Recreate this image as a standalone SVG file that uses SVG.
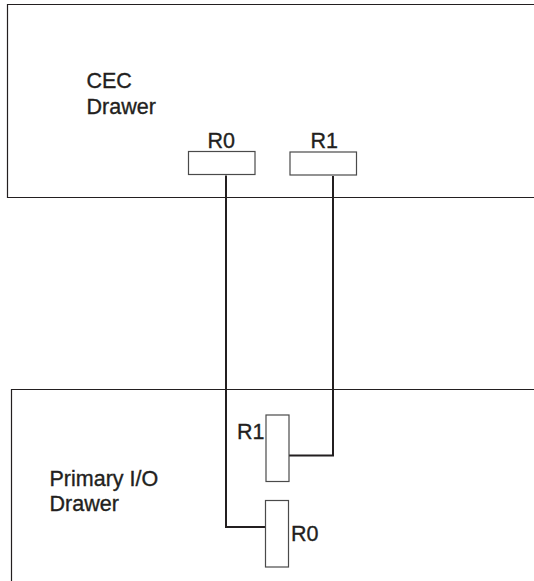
<svg xmlns="http://www.w3.org/2000/svg" width="534" height="581" viewBox="0 0 534 581">
<style>
text{font-family:"Liberation Sans",Arial,sans-serif;font-size:21.500px;fill:#231f20;stroke:#231f20;stroke-width:0.350}
.d{fill:none;stroke:#231f20;stroke-width:1.200}
.p{fill:#fff;stroke:#4a4a4a;stroke-width:1.200}
.c{fill:none;stroke:#231f20;stroke-width:2}
</style>
<rect width="534" height="581" fill="#fff"/>
<g id="cec-drawer">
<path class="d" d="M534 4.500H7.500V197.500H534"/>
<text x="86.500" y="88">CEC</text>
<text x="86.500" y="114">Drawer</text>
</g>
<g id="primary-io-drawer">
<path class="d" d="M534 389.500H11.500V581"/>
<text x="49.500" y="486">Primary I/O</text>
<text x="49.500" y="511">Drawer</text>
</g>
<g id="connectors">
<path class="c" d="M226 175.500V527H267"/>
<path class="c" d="M333 176V455.500H287"/>
</g>
<g id="cec-r0">
<rect class="p" x="188.500" y="151.500" width="66.500" height="23"/>
<text x="207.500" y="148">R0</text>
</g>
<g id="cec-r1">
<rect class="p" x="290" y="152" width="66.500" height="23"/>
<text x="310.500" y="148">R1</text>
</g>
<g id="io-r1">
<rect class="p" x="266" y="415" width="23" height="66.500"/>
<text x="237" y="439">R1</text>
</g>
<g id="io-r0">
<rect class="p" x="265.500" y="500.500" width="23" height="66.500"/>
<text x="291" y="541">R0</text>
</g>
</svg>
